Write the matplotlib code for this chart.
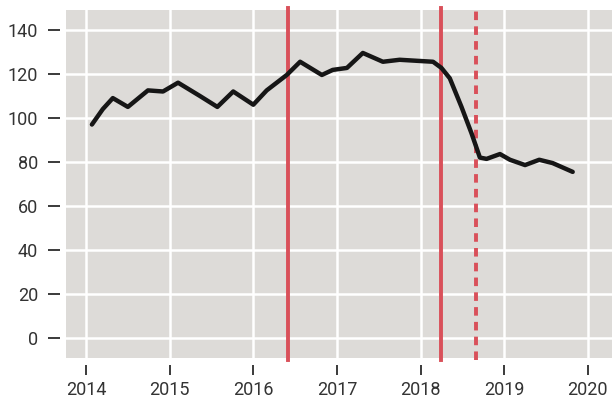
import matplotlib.pyplot as plt

# values
years = [2014.07, 2014.20, 2014.32, 2014.50, 2014.74, 2014.92, 2015.10, 2015.36,
         2015.57, 2015.76, 2016.00, 2016.16, 2016.40, 2016.56, 2016.82, 2016.95,
         2017.12, 2017.31, 2017.55, 2017.75, 2018.15, 2018.25, 2018.35, 2018.49,
         2018.61, 2018.71, 2018.79, 2018.95, 2019.07, 2019.25, 2019.42, 2019.58,
         2019.82]
values = [97, 104, 109, 105, 112.5, 112, 116, 110,
          105, 112, 106, 112.5, 119.5, 125.5, 119.5, 121.8,
          122.7, 129.5, 125.5, 126.4, 125.5, 122.7, 118, 105,
          93, 82, 81.4, 83.6, 81, 78.6, 81, 79.5,
          75.5]

events_solid = [2016.41, 2018.24]
events_dashed = [2018.66]

y_ticks = [0, 20, 40, 60, 80, 100, 120, 140]
x_ticks = [2014, 2015, 2016, 2017, 2018, 2019, 2020]

plt.rcParams["font.family"] = ["Roboto", "DejaVu Sans"]

fig = plt.figure(figsize=(6.12, 4.0), dpi=100)
ax = fig.add_axes([66 / 612, 42 / 400, 546 / 612, 348 / 400])
ax.set_facecolor("#dddbd8")

ax.set_xlim(2013.76, 2020.29)
ax.set_ylim(-9, 149)

ax.set_xticks(x_ticks)
ax.set_yticks(y_ticks)
ax.set_xticklabels([str(t) for t in x_ticks])
ax.set_yticklabels([str(t) for t in y_ticks])
ax.grid(True, color="white", linewidth=1.8)
ax.set_axisbelow(True)

for s in ["top", "right"]:
    ax.spines[s].set_visible(False)
ax.spines["left"].set_position(("outward", 4))
ax.spines["bottom"].set_position(("outward", 5))
ax.spines["left"].set_color("none")
ax.spines["bottom"].set_color("none")

ax.tick_params(axis="y", length=9, width=1.4, color="#3a3a3a", pad=7,
               labelsize=13, labelcolor="#333333")
ax.tick_params(axis="x", length=7.5, width=1.4, color="#3a3a3a", pad=4,
               labelsize=13, labelcolor="#333333")

for x in events_solid:
    ax.axvline(x, ymin=-0.006, ymax=1.006, color="#d9505a", linewidth=2.8,
               clip_on=False, zorder=2)
for x in events_dashed:
    ax.axvline(x, ymin=-0.006, ymax=1.006, color="#d9505a", linewidth=2.8,
               linestyle=(0, (2.2, 1.6)), clip_on=False, zorder=2)

ax.plot(years, values, color="#161616", linewidth=3.2, solid_joinstyle="round",
        solid_capstyle="round", zorder=3)

fig.savefig("out.png", dpi=100)
